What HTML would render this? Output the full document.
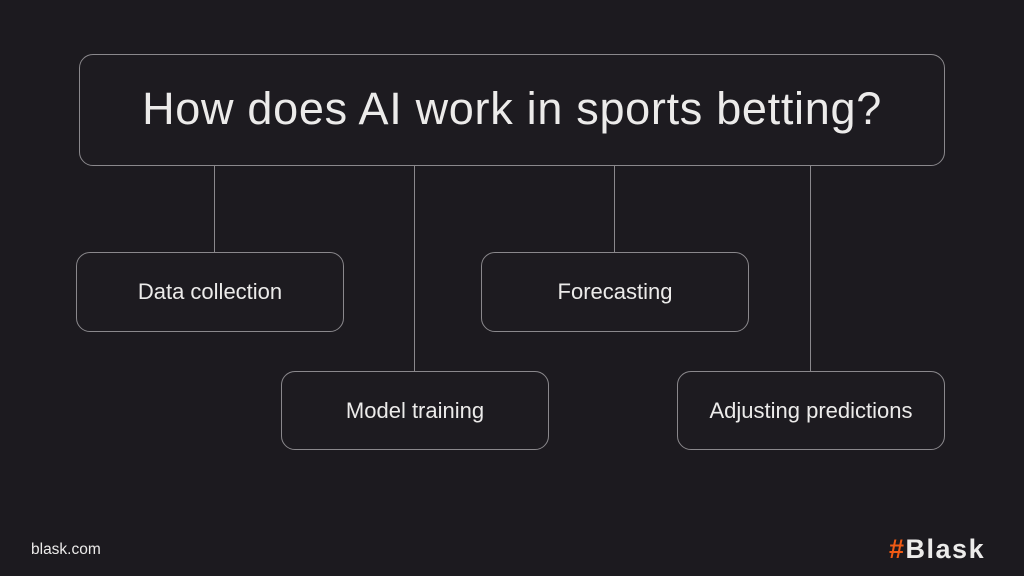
<!DOCTYPE html>
<html><head><style>
body{margin:0;width:1024px;height:576px;background:#1c1a1f;position:relative;overflow:hidden;font-family:"Liberation Sans",sans-serif;color:#ecebea}
.b{position:absolute;border:1px solid #8a888c;border-radius:14px;box-sizing:border-box;display:flex;align-items:center;justify-content:center;background:#1d1b20}
.l{position:absolute;width:1px;background:#8a888c}
.s{font-size:22px}
</style></head><body>
<div class="l" style="left:214px;top:165px;height:87px"></div>
<div class="l" style="left:414px;top:165px;height:206px"></div>
<div class="l" style="left:614px;top:165px;height:87px"></div>
<div class="l" style="left:810px;top:165px;height:206px"></div>
<div class="b" style="left:79px;top:54px;width:866px;height:112px;font-size:45px;letter-spacing:0.7px;padding-bottom:2px">How does AI work in sports betting?</div>
<div class="b s" style="left:76px;top:252px;width:268px;height:80px">Data collection</div>
<div class="b s" style="left:481px;top:252px;width:268px;height:80px">Forecasting</div>
<div class="b s" style="left:281px;top:371px;width:268px;height:79px">Model training</div>
<div class="b s" style="left:677px;top:371px;width:268px;height:79px">Adjusting predictions</div>
<div style="position:absolute;left:31px;top:541px;font-size:15.5px">blask.com</div>
<div style="position:absolute;left:889px;top:534px;font-size:27px;font-weight:bold;letter-spacing:1.5px"><span style="color:#f05a14">#</span>Blask</div>
</body></html>
